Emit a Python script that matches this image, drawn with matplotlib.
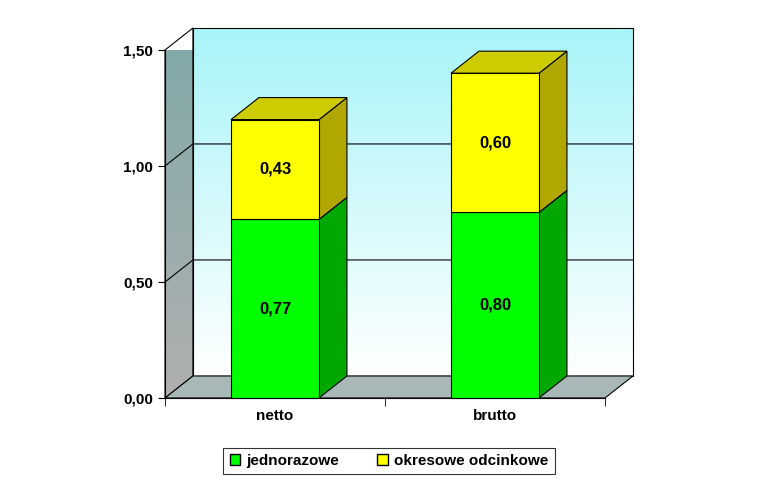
import numpy as np
import matplotlib.pyplot as plt
from matplotlib.patches import Polygon, Patch

plt.rcParams['font.family'] = ['Liberation Sans', 'DejaVu Sans']

categories = ['netto', 'brutto']
jednorazowe = [0.77, 0.80]
okresowe = [0.43, 0.60]
labels_j = ['0,77', '0,80']
labels_o = ['0,43', '0,60']
yticks = [0.0, 0.5, 1.0, 1.5]
ytick_labels = ['0,00', '0,50', '1,00', '1,50']

fig = plt.figure(figsize=(7.77, 4.91), dpi=100)
ax = fig.add_axes([165/777, 93/491, 440/777, 348/491])
ax.set_xlim(0, 2)
ax.set_ylim(0, 1.5)
dx, dy = 0.127, 0.095
w = 0.4

def poly(pts, fc, z, ec='black', lw=0.8):
    ax.add_patch(Polygon(pts, closed=True, facecolor=fc, edgecolor=ec, lw=lw, zorder=z, clip_on=False))

# back wall gradient
grad = np.linspace(0, 1, 256).reshape(-1, 1)
from matplotlib.colors import LinearSegmentedColormap
cmap = LinearSegmentedColormap.from_list('w', ['#ffffff', '#a8f4f8'])
im = ax.imshow(grad, extent=(dx, 2 + dx, dy, 1.5 + dy), origin='lower', cmap=cmap,
               aspect='auto', zorder=0)
im.set_clip_on(False)
poly([(dx, dy), (2 + dx, dy), (2 + dx, 1.5 + dy), (dx, 1.5 + dy)], 'none', 1)
# side wall
cmap2 = LinearSegmentedColormap.from_list('g', ['#b0b0b0', '#80a8a8'])
im2 = ax.imshow(grad, extent=(0, dx, 0, 1.5 + dy), origin='lower', cmap=cmap2, aspect='auto', zorder=0.5)
side = Polygon([(0, 0), (dx, dy), (dx, 1.5 + dy), (0, 1.5)], closed=True, transform=ax.transData)
im2.set_clip_path(side)
poly([(0, 0), (dx, dy), (dx, 1.5 + dy), (0, 1.5)], 'none', 1)
# floor
poly([(0, 0), (2, 0), (2 + dx, dy), (dx, dy)], '#a8b8b8', 1)
# grid lines
for y in yticks[1:-1]:
    ax.plot([0, dx, 2 + dx], [y, y + dy, y + dy], color='black', lw=0.8, zorder=1.5, clip_on=False)

centers = [0.5, 1.5]
for i, c in enumerate(centers):
    x0, x1 = c - w / 2, c + w / 2
    segs = [(0, jednorazowe[i], '#00ff00', '#00a800', '#00c800'),
            (jednorazowe[i], jednorazowe[i] + okresowe[i], '#ffff00', '#b0a800', '#cccc00')]
    for y0, y1, fc, sc, tc in segs:
        poly([(x1, y0), (x1 + dx, y0 + dy), (x1 + dx, y1 + dy), (x1, y1)], sc, 3)
        poly([(x0, y0), (x1, y0), (x1, y1), (x0, y1)], fc, 4)
    top = jednorazowe[i] + okresowe[i]
    poly([(x0, top), (x1, top), (x1 + dx, top + dy), (x0 + dx, top + dy)], '#cccc00', 3)
    ax.text(c, jednorazowe[i] / 2, labels_j[i], ha='center', va='center', fontsize=12, fontweight='bold', zorder=5)
    ax.text(c, jednorazowe[i] + okresowe[i] / 2, labels_o[i], ha='center', va='center', fontsize=12, fontweight='bold', zorder=5)

for s in ['top', 'right']:
    ax.spines[s].set_visible(False)
ax.spines['left'].set_zorder(6)
ax.spines['bottom'].set_zorder(6)
ax.set_yticks(yticks)
ax.set_yticklabels(ytick_labels, fontsize=11, fontweight='bold')
ax.set_xticks([0, 1, 2], minor=True)
ax.set_xticks(centers)
ax.set_xticklabels(categories, fontsize=11, fontweight='bold')
ax.tick_params(axis='x', which='major', length=0, pad=8)
ax.tick_params(axis='x', which='minor', length=6, direction='out')
ax.tick_params(axis='y', length=5, direction='out')

handles = [Patch(facecolor='#00ff00', edgecolor='black', label='jednorazowe'),
           Patch(facecolor='#ffff00', edgecolor='black', label='okresowe odcinkowe')]
leg = fig.legend(handles=handles, loc='center', bbox_to_anchor=(389/777, 1 - 461/491), ncol=2,
                 fontsize=11, frameon=True, fancybox=False, edgecolor='black',
                 handlelength=0.7, handleheight=0.7, columnspacing=2.5, handletextpad=0.4,
                 prop={'weight': 'bold', 'size': 11})
leg.get_frame().set_linewidth(0.8)

fig.savefig('out.png', dpi=100)
